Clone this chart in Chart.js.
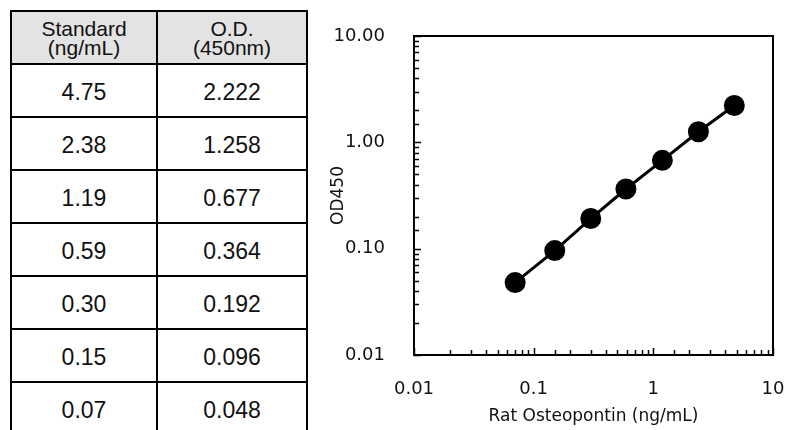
<!DOCTYPE html>
<html>
<head>
<meta charset="utf-8">
<script src="https://cdn.jsdelivr.net/npm/chart.js@4.4.1/dist/chart.umd.min.js"></script>
<style>
  body { margin: 0; width: 787px; height: 430px; overflow: hidden; background: #fff; position: relative; }
  table { position: absolute; left: 10px; top: 10px; border-collapse: collapse;
          font-family: "Liberation Sans", Arial, sans-serif; color: #111; }
  td, th { border: 2px solid #000; text-align: center; padding: 0; }
  th { background: #e3e3e3; font-weight: normal; font-size: 21px; line-height: 19px; height: 51px; }
  td { font-size: 23px; height: 47px; padding-top: 4px; }
  .c1 { width: 144px; }
  .c2 { width: 148px; }
  #wrap { position: absolute; left: 310px; top: 0; width: 477px; height: 430px; }
</style>
</head>
<body>
<table id="tbl"></table>
<div id="wrap"><canvas id="c"></canvas></div>
<script>
const headers = ["Standard<br>(ng/mL)", "O.D.<br>(450nm)"];
const standards = ["4.75", "2.38", "1.19", "0.59", "0.30", "0.15", "0.07"];
const odValues = ["2.222", "1.258", "0.677", "0.364", "0.192", "0.096", "0.048"];
const xTickLabels = ["0.01", "0.1", "1", "10"];
const yTickLabels = ["0.01", "0.10", "1.00", "10.00"];

const tbl = document.getElementById("tbl");
let html = "<tr><th class='c1'>" + headers[0] + "</th><th class='c2'>" + headers[1] + "</th></tr>";
for (let i = 0; i < standards.length; i++) {
  html += "<tr><td>" + standards[i] + "</td><td>" + odValues[i] + "</td></tr>";
}
tbl.innerHTML = html;

const points = standards.map((s, i) => ({ x: parseFloat(s), y: parseFloat(odValues[i]) }));

function isDecade(v) {
  const l = Math.log10(v);
  return Math.abs(l - Math.round(l)) < 1e-6;
}

// ticks drawn inward + box frame
const frame = {
  id: "frame",
  afterDraw(chart) {
    const ctx = chart.ctx, a = chart.chartArea;
    const xs = chart.scales.x, ys = chart.scales.y;
    ctx.save();
    ctx.strokeStyle = "#000";
    ctx.lineWidth = 1.5;
    ctx.beginPath();
    xs.ticks.forEach(t => {
      const px = Math.round(xs.getPixelForValue(t.value)) + 0.5;
      const len = isDecade(t.value) ? 7 : 5;
      ctx.moveTo(px, a.bottom);
      ctx.lineTo(px, a.bottom - len);
    });
    ys.ticks.forEach(t => {
      const py = Math.round(ys.getPixelForValue(t.value)) + 0.5;
      const len = isDecade(t.value) ? 7 : 5;
      ctx.moveTo(a.left, py);
      ctx.lineTo(a.left + len, py);
    });
    ctx.stroke();
    ctx.lineWidth = 2;
    ctx.strokeRect(a.left, a.top, a.right - a.left, a.bottom - a.top);
    ctx.restore();
  }
};

const font = "'DejaVu Sans', sans-serif";

new Chart(document.getElementById("c"), {
  type: "scatter",
  data: {
    datasets: [{
      data: points,
      showLine: true,
      borderColor: "#000",
      backgroundColor: "#000",
      borderWidth: 3,
      pointRadius: 9,
      pointHoverRadius: 9
    }]
  },
  options: {
    responsive: true,
    maintainAspectRatio: false,
    animation: false,
    layout: { padding: { left: 10, right: 14, top: 36, bottom: 0 } },
    plugins: { legend: { display: false }, tooltip: { enabled: false } },
    scales: {
      x: {
        type: "logarithmic",
        min: 0.01, max: 10,
        grid: { display: false, drawTicks: false },
        border: { display: false },
        afterFit: s => { s.height = 75; s.paddingLeft = 0; s.paddingRight = 0; },
        ticks: {
          autoSkip: false, maxRotation: 0, padding: 24,
          color: "#111", font: { family: font, size: 18 },
          callback: v => isDecade(v) ? xTickLabels[Math.round(Math.log10(v)) + 2] : ""
        },
        title: {
          display: true, text: "Rat Osteopontin (ng/mL)", color: "#111",
          font: { family: font, size: 17 }, padding: { top: 0, bottom: 3 }
        }
      },
      y: {
        type: "logarithmic",
        min: 0.01, max: 10,
        grid: { display: false, drawTicks: false },
        border: { display: false },
        afterFit: s => { s.width = 94; s.paddingTop = 0; s.paddingBottom = 0; },
        ticks: {
          autoSkip: false, padding: 29,
          color: "#111", font: { family: font, size: 18 },
          callback: v => isDecade(v) ? yTickLabels[Math.round(Math.log10(v)) + 2] : ""
        },
        title: {
          display: true, text: "OD450", color: "#111",
          font: { family: font, size: 17 }, padding: { top: 8, bottom: 0 }
        }
      }
    }
  },
  plugins: [frame]
});
</script>
</body>
</html>
